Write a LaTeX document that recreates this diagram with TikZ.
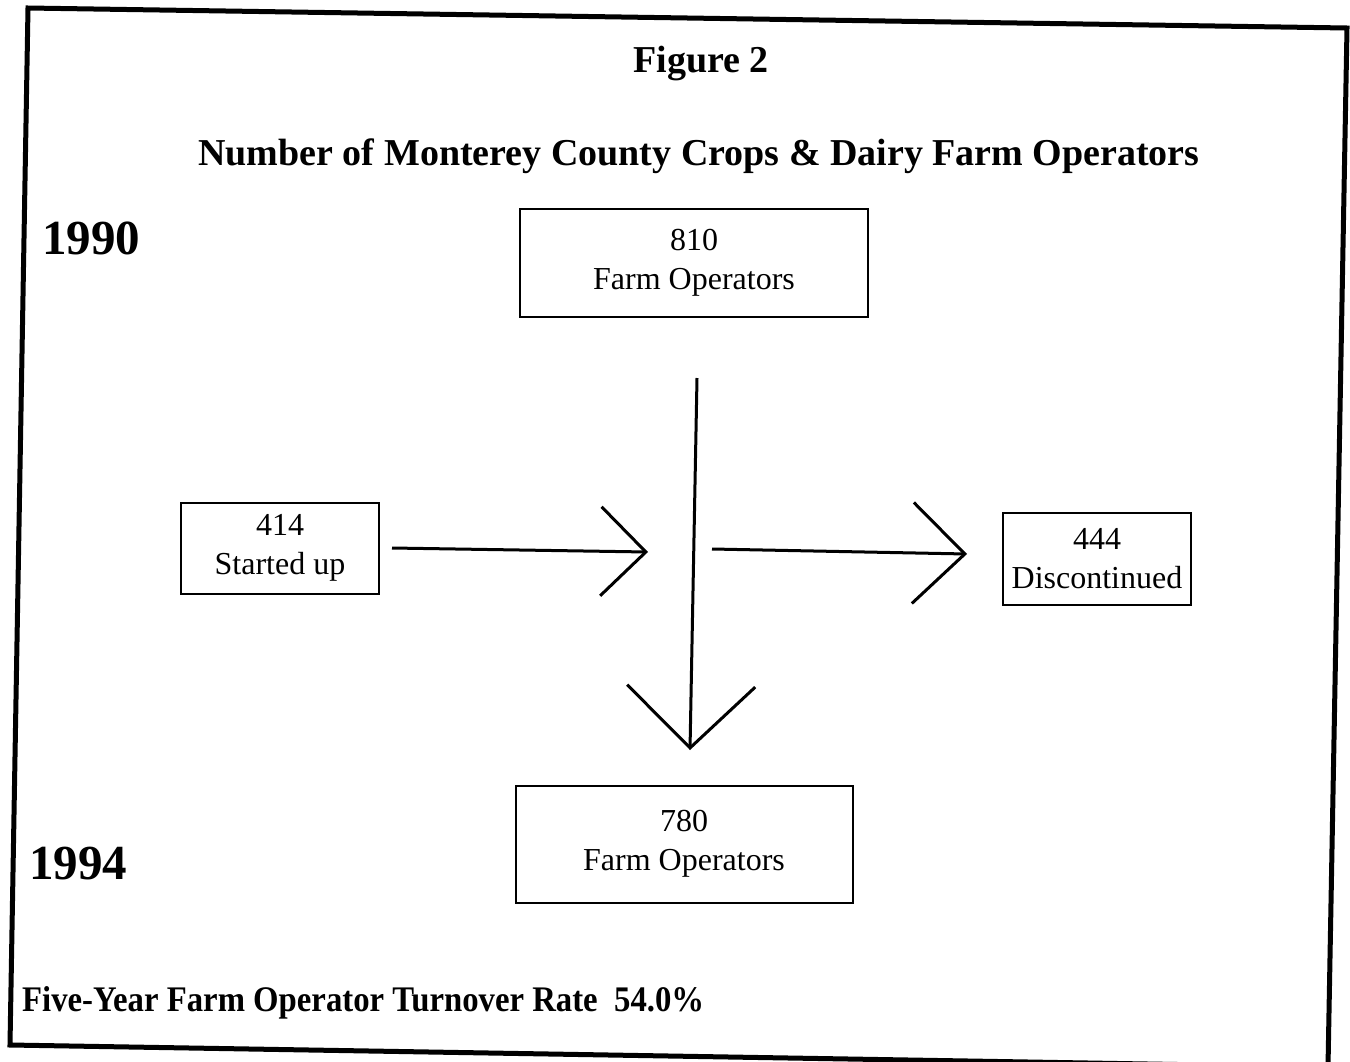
\documentclass[tikz,border=0pt]{standalone}
\usepackage{fontspec}
\setmainfont{Liberation Serif}
\usetikzlibrary{arrows.meta}
\begin{document}
\begin{tikzpicture}[x=1pt,y=-1pt,
  boxnode/.style={draw,line width=2pt,inner sep=0pt,align=center,
    font=\fontsize{32}{39}\selectfont},
  heading/.style={inner sep=0pt,font=\fontsize{38}{46}\selectfont\bfseries},
  yearlbl/.style={inner sep=0pt,font=\fontsize{49}{58}\selectfont\bfseries},
  flow/.style={line width=3pt,line join=miter}]
\useasboundingbox (0,0) rectangle (1350,1061);
\fill[white] (0,0) rectangle (1350,1061);
% frame
\draw[line width=5pt,line join=miter] (28,8) -- (1347,28) -- (1328,1067) -- (10,1045) -- cycle;
% titles
\node[heading] (fig) at (701,64) {Figure 2};
\node[heading] (title) at (699,156) {Number of Monterey County Crops \& Dairy Farm Operators};
\node[yearlbl] (y1990) at (91,238) {1990};
\node[yearlbl] (y1994) at (78,864) {1994};
\node[inner sep=0pt,anchor=west,xscale=0.91,font=\fontsize{36}{43}\selectfont\bfseries] (rate) at (22,1003) {Five-Year Farm Operator Turnover Rate\ \ 54.0\%};
% boxes
\node[boxnode,minimum width=348pt,minimum height=108pt] (b810) at (694,263) {810\\Farm Operators};
\node[boxnode,minimum width=337pt,minimum height=117pt] (b780) at (684,844) {780\\Farm Operators};
\node[boxnode,minimum width=198pt,minimum height=91pt] (b414) at (280,548) {414\\Started up};
\node[boxnode,minimum width=188pt,minimum height=92pt] (b444) at (1097,559) {444\\Discontinued};
% arrow end points
\coordinate (vs) at (697,378);
\coordinate (ve) at (690,750);
\coordinate (ls) at (392,548);
\coordinate (le) at (648,552);
\coordinate (rs) at (712,549);
\coordinate (re) at (967,554);
\draw[flow,-{Straight Barb[length=62pt,width=128pt,line width=3pt]}] (vs) -- (ve);
\draw[flow,-{Straight Barb[length=45pt,width=89pt,line width=3pt]}] (ls) -- (le);
\draw[flow,-{Straight Barb[length=52pt,width=101pt,line width=3pt]}] (rs) -- (re);
\end{tikzpicture}
\end{document}
